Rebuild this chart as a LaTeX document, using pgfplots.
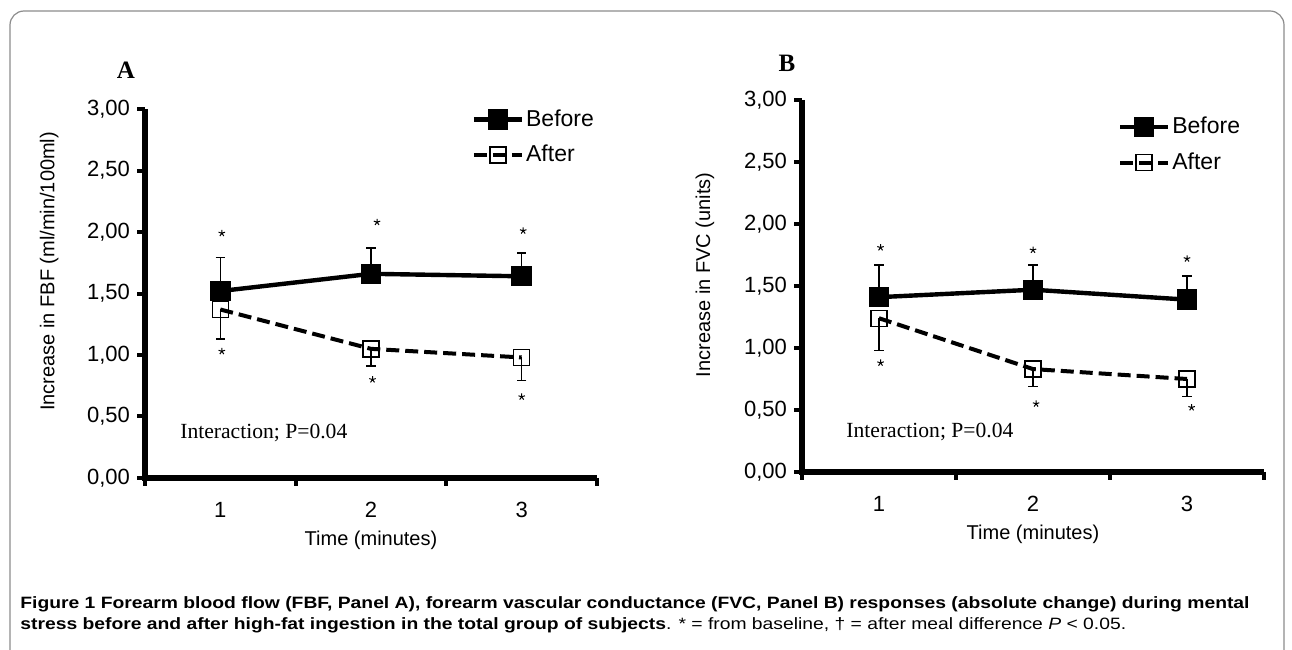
\documentclass[border=0pt]{standalone}
\usepackage{fontspec}
\setmainfont{Liberation Sans}
\newfontfamily\tnr{Liberation Serif}
\usepackage{pgfplots}
\pgfplotsset{compat=1.18}

\pgfplotsset{
  panel/.style={
    scale only axis, clip=false,
    axis lines=left,
    axis line style={-},
    xmin=0.5, xmax=3.5, ymin=0, ymax=3,
    xtick={0.5,1.5,2.5,3.5}, xticklabels={1,2,3}, x tick label as interval,
    ytick={0,0.5,1,1.5,2,2.5,3},
    tick align=outside, major tick length=3.5pt,
    tick style={black},
    tick label style={font=\fontsize{11}{13}\selectfont},
    xticklabel style={yshift=-5pt},
    yticklabel style={xshift=-0.5pt, /pgf/number format/.cd, fixed, fixed zerofill, precision=2, use comma, assume math mode=true},
    label style={font=\fontsize{11.5}{13}\selectfont},
    every axis x label/.style={at={(axis description cs:0.5,0)}, anchor=center, yshift=-31pt},
    xlabel={Time (minutes)},
    legend style={draw=none, fill=none, inner sep=0pt, row sep=6pt,
      font=\fontsize{11.5}{13}\selectfont, nodes={inner xsep=1pt, inner ysep=1pt}},
    legend cell align=left,
    legend image code/.code={\draw[mark repeat=2,mark phase=2,#1] plot coordinates {(0pt,0pt) (12pt,0pt) (24pt,0pt)};},
  },
  before/.style={black, line width=2.2pt, mark=square*, mark size=4pt, mark options={solid},
    error bars/.cd, y dir=plus, y explicit,
    error bar style={solid, line width=0.6pt},
    error mark options={rotate=90, mark size=2.3pt, line width=0.6pt, solid}},
  after/.style={black, line width=2pt, dash pattern=on 6.5pt off 3pt, mark=square, mark size=4pt,
    mark options={solid, line width=0.7pt},
    error bars/.cd, y dir=minus, y explicit,
    error bar style={solid, line width=0.6pt},
    error mark options={rotate=90, mark size=2.3pt, line width=0.6pt, solid}},
  stars/.style={only marks, mark=star, mark size=1.7pt, black, mark options={line width=0.5pt}, forget plot},
}

% heavy axis lines and tick stubs, as in the source figure
\newcommand{\heavyframe}{%
  \draw[line width=2.6pt, line join=miter] (rel axis cs:0,1) -- (rel axis cs:0,0) -- (rel axis cs:1,0);
  \pgfplotsinvokeforeach{0,0.5,1,1.5,2,2.5,3}{\draw[line width=2pt] (axis cs:0.5,##1) -- ++(-3.9pt,0pt);}
  \pgfplotsinvokeforeach{0.5,1.5,2.5,3.5}{\draw[line width=2pt] (axis cs:##1,0) -- ++(0pt,-3.9pt);}
}

\begin{document}
\begin{tikzpicture}
\path[use as bounding box] (0,0) rectangle (646pt,324.5pt);

% Panel A: forearm blood flow
\begin{axis}[panel, at={(72.5pt,85.5pt)}, anchor=south west,
  width=226pt, height=184.5pt,
  ylabel={Increase in FBF (ml/min/100ml)},
  every axis y label/.style={at={(axis description cs:-0.212,0.56)}, anchor=center, rotate=90},
  legend style={at={(0.722,1.005)}, anchor=north west}]
\addplot[before] coordinates {(1,1.52) +- (0,0.27) (2,1.66) +- (0,0.21) (3,1.64) +- (0,0.19)};
\addlegendentry{Before}
\addplot[after] coordinates {(1,1.37) +- (0,0.24) (2,1.05) +- (0,0.14) (3,0.98) +- (0,0.19)};
\addlegendentry{After}
\addplot[stars] coordinates {(1.01,1.99) (2.04,2.08) (3.01,2.01) (1.01,1.03) (2.01,0.80) (3.0,0.66)};
\node[anchor=west, font=\tnr\fontsize{10.8}{12}\selectfont, inner sep=0pt] at (axis cs:0.732,0.366) {Interaction; P=0.04};
\heavyframe
\end{axis}

% Panel B: forearm vascular conductance
\begin{axis}[panel, at={(401pt,88.5pt)}, anchor=south west,
  width=231pt, height=186pt,
  ylabel={Increase in FVC (units)},
  every axis y label/.style={at={(axis description cs:-0.21,0.53)}, anchor=center, rotate=90},
  legend style={at={(0.683,0.96)}, anchor=north west}]
\addplot[before] coordinates {(1,1.41) +- (0,0.26) (2,1.47) +- (0,0.20) (3,1.39) +- (0,0.19)};
\addlegendentry{Before}
\addplot[after] coordinates {(1,1.24) +- (0,0.26) (2,0.83) +- (0,0.14) (3,0.75) +- (0,0.14)};
\addlegendentry{After}
\addplot[stars] coordinates {(1.01,1.81) (2.0,1.79) (3.0,1.72) (1.01,0.88) (2.02,0.55) (3.03,0.52)};
\node[anchor=west, font=\tnr\fontsize{10.8}{12}\selectfont, inner sep=0pt] at (axis cs:0.786,0.32) {Interaction; P=0.04};
\heavyframe
\end{axis}

% panel letters
\node[font=\tnr\bfseries\fontsize{12.5}{14}\selectfont] at (63pt,289.5pt) {A};
\node[font=\tnr\bfseries\fontsize{12.5}{14}\selectfont] at (393.5pt,293pt) {B};

% frame and caption
\draw[black!45, line width=0.6pt, rounded corners=7pt] (5pt,-2pt) -- (5pt,319pt) -- (642pt,319pt) -- (642pt,-2pt);
\node[anchor=base west, inner sep=0pt, font=\fontsize{8.2}{10}\selectfont] at (10pt,20pt)
  {\scalebox{1.177}[1]{\textbf{Figure 1 Forearm blood flow (FBF, Panel A), forearm vascular conductance (FVC, Panel B) responses (absolute change) during mental}}};
\node[anchor=base west, inner sep=0pt, font=\fontsize{8.2}{10}\selectfont] at (10pt,10pt)
  {\scalebox{1.177}[1]{\textbf{stress before and after high-fat ingestion in the total group of subjects}. * = from baseline, † = after meal difference \textit{P} < 0.05.}};
\end{tikzpicture}
\end{document}
